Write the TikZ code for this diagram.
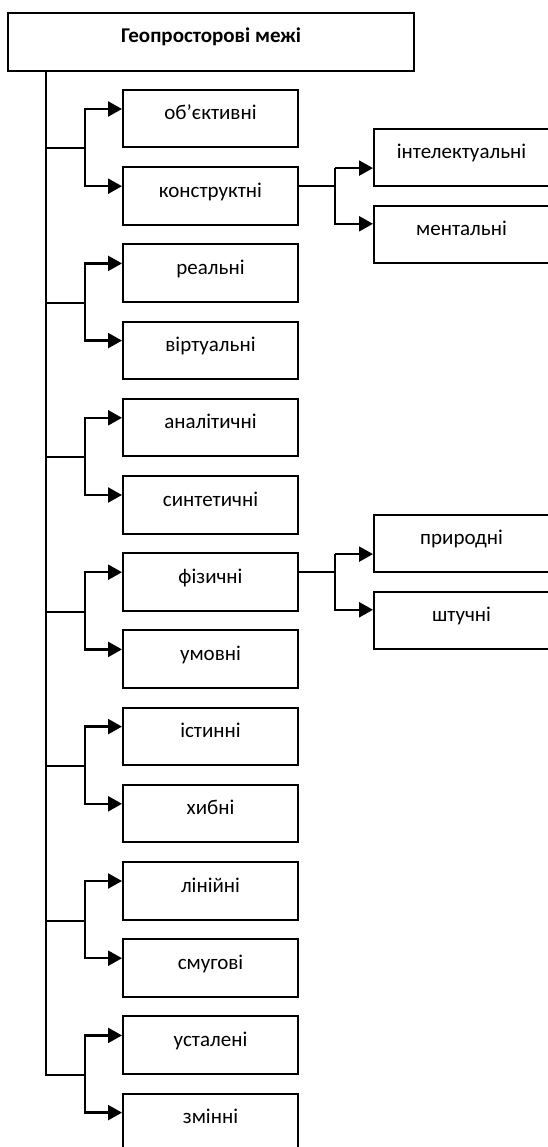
\documentclass[tikz,border=0pt]{standalone}
\usepackage{fontspec}
\setmainfont{Carlito}
\usetikzlibrary{arrows.meta,positioning}
\tikzstyle{head} = [draw, line width=2pt, minimum width=406pt, inner xsep=0pt, inner ysep=0pt, text height=30pt, text depth=28pt, font=\fontsize{21}{25}\selectfont\bfseries]
\tikzstyle{kid} = [draw, line width=2pt, minimum width=175pt, inner xsep=0pt, inner ysep=0pt, text height=30pt, text depth=27.5pt]
\tikzstyle{branch} = [line width=2.4pt]

\begin{document}
\begin{tikzpicture}[x=1pt, y=1pt, node distance=77.2pt, >={Triangle[length=14pt,width=15pt]}, line width=2pt, font=\fontsize{21}{25}\selectfont]

  % Fix the page to the size of the original figure.
    \useasboundingbox (0,0) rectangle (548,-1147);

    \node [head, anchor=base] (geo) at (211,-43) {Геопросторові межі};
    \node [kid, anchor=base] (obj) at (210.5,-120) {об’єктивні};
    \node [kid, below of=obj] (kon) {конструктні};
    \node [kid, below of=kon] (rea) {реальні};
    \node [kid, below of=rea] (vir) {віртуальні};
    \node [kid, below of=vir] (ana) {аналітичні};
    \node [kid, below of=ana] (syn) {синтетичні};
    \node [kid, below of=syn] (fiz) {фізичні};
    \node [kid, below of=fiz] (umo) {умовні};
    \node [kid, below of=umo] (ist) {істинні};
    \node [kid, below of=ist] (hyb) {хибні};
    \node [kid, below of=hyb] (lin) {лінійні};
    \node [kid, below of=lin] (smu) {смугові};
    \node [kid, below of=smu] (ust) {усталені};
    \node [kid, below of=ust] (zmi) {змінні};

    \node [kid, right of=kon, node distance=251pt, yshift=38.6pt] (int) {інтелектуальні};
    \node [kid, below of=int] (men) {ментальні};
    \node [kid, right of=fiz, node distance=251pt, yshift=38.6pt] (pry) {природні};
    \node [kid, below of=pry] (sht) {штучні};

% Branch points next to the boxes.
    \coordinate (trunk) at ([xshift=39pt]geo.south west);
    \coordinate (ja) at ([xshift=-37pt]obj.south west);
    \coordinate (jb) at ([xshift=-37pt]rea.south west);
    \coordinate (jc) at ([xshift=-37pt]ana.south west);
    \coordinate (jd) at ([xshift=-37pt]fiz.south west);
    \coordinate (je) at ([xshift=-37pt]ist.south west);
    \coordinate (jf) at ([xshift=-37pt]lin.south west);
    \coordinate (jg) at ([xshift=-37pt]ust.south west);
    \coordinate (ki) at ([xshift=-38pt,yshift=19pt]int.south west);
    \coordinate (pi) at ([xshift=-38pt,yshift=19pt]pry.south west);

    \draw (trunk) |- (jg);
    \draw (ja -| trunk) -- (ja);
    \draw (jb -| trunk) -- (jb);
    \draw (jc -| trunk) -- (jc);
    \draw (jd -| trunk) -- (jd);
    \draw (je -| trunk) -- (je);
    \draw (jf -| trunk) -- (jf);

    \draw [branch, ->] (ja) |- ([yshift=-20pt]obj.north west);
    \draw [branch, ->] (ja) |- ([yshift=-20pt]kon.north west);
    \draw [branch, ->] (jb) |- ([yshift=-20pt]rea.north west);
    \draw [branch, ->] (jb) |- ([yshift=-20pt]vir.north west);
    \draw [branch, ->] (jc) |- ([yshift=-20pt]ana.north west);
    \draw [branch, ->] (jc) |- ([yshift=-20pt]syn.north west);
    \draw [branch, ->] (jd) |- ([yshift=-20pt]fiz.north west);
    \draw [branch, ->] (jd) |- ([yshift=-20pt]umo.north west);
    \draw [branch, ->] (je) |- ([yshift=-20pt]ist.north west);
    \draw [branch, ->] (je) |- ([yshift=-20pt]hyb.north west);
    \draw [branch, ->] (jf) |- ([yshift=-20pt]lin.north west);
    \draw [branch, ->] (jf) |- ([yshift=-20pt]smu.north west);
    \draw [branch, ->] (jg) |- ([yshift=-20pt]ust.north west);
    \draw [branch, ->] (jg) |- ([yshift=-20pt]zmi.north west);

    \draw ([yshift=-20pt]kon.north east) -| (ki);
    \draw [branch, ->] (ki) -- ([yshift=19pt]int.south west);
    \draw [branch, ->] (ki) |- ([yshift=-19pt]men.north west);
    \draw ([yshift=-20pt]fiz.north east) -| (pi);
    \draw [branch, ->] (pi) -- ([yshift=19pt]pry.south west);
    \draw [branch, ->] (pi) |- ([yshift=-19pt]sht.north west);

  \end{tikzpicture}
\end{document}
